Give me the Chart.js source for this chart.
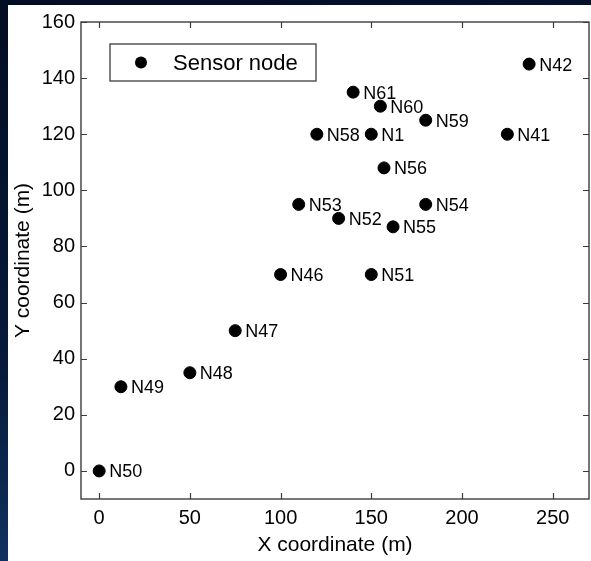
<!DOCTYPE html>
<html>
<head>
<meta charset="utf-8">
<script src="https://cdn.jsdelivr.net/npm/chart.js@4.4.0/dist/chart.umd.min.js"></script>
<style>
  html, body { margin: 0; padding: 0; }
  body {
    width: 591px; height: 561px; overflow: hidden;
    background: linear-gradient(170deg, #030d22 0%, #061a3a 55%, #123e72 100%);
  }
  #wrap {
    position: absolute; left: 8px; top: 5px;
    width: 583px; height: 556px; background: #fff;
  }
</style>
</head>
<body>
<div id="wrap"><canvas id="chart" width="583" height="556"></canvas></div>
<script>
// Nodos sensores (coordenadas)
const nodeNames = ['N50', 'N49', 'N48', 'N47', 'N46', 'N51', 'N53', 'N52', 'N55', 'N54',
                   'N56', 'N58', 'N1', 'N61', 'N60', 'N59', 'N41', 'N42'];
const nodeX = [0, 12, 50, 75, 100, 150, 110, 132, 162, 180, 157, 120, 150, 140, 155, 180, 225, 237];
const nodeY = [0, 30, 35, 50, 70, 70, 95, 90, 87, 95, 108, 120, 120, 135, 130, 125, 120, 145];

const xTicks = [0, 50, 100, 150, 200, 250];
const yTicks = [0, 20, 40, 60, 80, 100, 120, 140, 160];
const xRange = [-10, 270];
const yRange = [-10, 160];

const FONT = '"Liberation Sans", Arial, Helvetica, sans-serif';
const AXIS_COLOR = '#3c3c3c';

// Caja, ticks hacia adentro, etiquetas de nodos y leyenda
const matlabStyle = {
  id: 'matlabStyle',
  afterDatasetsDraw(chart) {
    const { ctx, chartArea: a, scales } = chart;
    ctx.save();

    // etiquetas de los nodos
    const meta = chart.getDatasetMeta(0);
    ctx.fillStyle = '#000';
    ctx.font = '18px ' + FONT;
    ctx.textAlign = 'left';
    ctx.textBaseline = 'middle';
    meta.data.forEach((pt, i) => {
      ctx.fillText(nodeNames[i], pt.x + 10, pt.y + 1.5);
    });

    // caja del eje
    ctx.strokeStyle = AXIS_COLOR;
    ctx.lineWidth = 1.4;
    ctx.strokeRect(a.left, a.top, a.right - a.left, a.bottom - a.top);

    // ticks hacia adentro
    const tl = 6;
    ctx.beginPath();
    scales.x.ticks.forEach(t => {
      const px = Math.round(scales.x.getPixelForValue(t.value)) + 0.5;
      ctx.moveTo(px, a.bottom); ctx.lineTo(px, a.bottom - tl);
      ctx.moveTo(px, a.top); ctx.lineTo(px, a.top + tl);
    });
    scales.y.ticks.forEach(t => {
      const py = Math.round(scales.y.getPixelForValue(t.value)) + 0.5;
      ctx.moveTo(a.left, py); ctx.lineTo(a.left + tl, py);
      ctx.moveTo(a.right, py); ctx.lineTo(a.right - tl, py);
    });
    ctx.lineWidth = 1.2;
    ctx.stroke();

    // leyenda
    const lx = a.left + 29, ly = a.top + 22, lw = 206, lh = 37;
    ctx.fillStyle = '#fff';
    ctx.fillRect(lx, ly, lw, lh);
    ctx.strokeStyle = AXIS_COLOR;
    ctx.lineWidth = 1.3;
    ctx.strokeRect(lx, ly, lw, lh);
    ctx.fillStyle = '#000';
    ctx.beginPath();
    ctx.arc(lx + 31, ly + 18.5, 6, 0, Math.PI * 2);
    ctx.fill();
    ctx.font = '22px ' + FONT;
    ctx.fillText(chart.data.datasets[0].label, lx + 63, ly + 19.5);

    ctx.restore();
  }
};

new Chart(document.getElementById('chart'), {
  type: 'scatter',
  data: {
    datasets: [{
      label: 'Sensor node',
      data: nodeX.map((x, i) => ({ x: x, y: nodeY[i] })),
      backgroundColor: '#000',
      borderColor: '#000',
      pointRadius: 6,
      pointHoverRadius: 6
    }]
  },
  options: {
    responsive: false,
    animation: false,
    layout: { autoPadding: false, padding: { left: 0, right: 2, top: 17, bottom: 0 } },
    plugins: {
      legend: { display: false },
      tooltip: { enabled: false }
    },
    scales: {
      x: {
        type: 'linear',
        min: xRange[0],
        max: xRange[1],
        afterBuildTicks: s => { s.ticks = xTicks.map(v => ({ value: v })); },
        afterFit: s => { s.height = 62; s.paddingLeft = 0; s.paddingRight = 0; },
        grid: { display: false, drawTicks: false },
        border: { display: false },
        ticks: {
          color: '#000',
          padding: 7,
          maxRotation: 0,
          font: { family: FONT, size: 20 }
        },
        title: {
          display: true,
          text: 'X coordinate (m)',
          color: '#000',
          padding: { top: 0, bottom: 3 },
          font: { family: FONT, size: 21 }
        }
      },
      y: {
        type: 'linear',
        min: yRange[0],
        max: yRange[1],
        afterBuildTicks: s => { s.ticks = yTicks.map(v => ({ value: v })); },
        afterFit: s => { s.width = 73; s.paddingTop = 0; s.paddingBottom = 0; },
        grid: { display: false, drawTicks: false },
        border: { display: false },
        ticks: {
          color: '#000',
          padding: 6,
          font: { family: FONT, size: 20 }
        },
        title: {
          display: true,
          text: 'Y coordinate (m)',
          color: '#000',
          padding: { top: 3, bottom: 0 },
          font: { family: FONT, size: 21 }
        }
      }
    }
  },
  plugins: [matlabStyle]
});
</script>
</body>
</html>
